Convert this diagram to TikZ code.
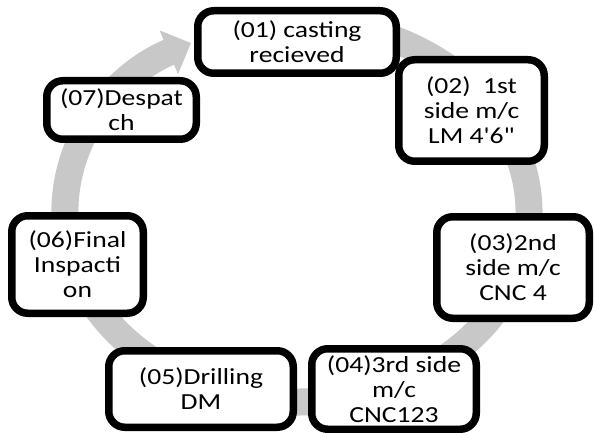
\documentclass[tikz,border=0pt]{standalone}
\usepackage{fontspec}
\newfontfamily\boxfont{Carlito}[FakeStretch=1.2]
\usetikzlibrary{arrows.meta}
\definecolor{ringgray}{RGB}{200,200,200}
\begin{document}
\begin{tikzpicture}[x=1pt,y=1pt,
  stepbox/.style={draw=black, line width=7.5pt, fill=white, rounded corners=16pt,
    align=center, inner sep=0pt, text=black,
    font=\boxfont\fontsize{23}{25}\selectfont},
  ring/.style={draw=ringgray, line width=27pt, -{Triangle[width=46pt,length=24pt]}}]
\clip (0,0) rectangle (595,432);
\fill[white] (0,0) rectangle (595,432);
% cycle ring
\draw[ring] ([shift={(297,220)}]100:232 and 190)
  arc[start angle=100, end angle=-242.8, x radius=232, y radius=190];
% steps
\node[stepbox, minimum width=198.5pt, minimum height=62.5pt] (s1) at (297,390) {(01) casting\\recieved};
\node[stepbox, minimum width=145.5pt, minimum height=101.5pt] (s2) at (471.5,321.5) {(02)\ \ 1st\\side m/c\\LM 4'6"};
\node[stepbox, minimum width=152.5pt, minimum height=101.5pt] (s3) at (513,164.5) {(03)2nd\\side m/c\\CNC 4};
\node[stepbox, minimum width=164.5pt, minimum height=80.5pt] (s4) at (394,43) {(04)3rd side\\m/c\\CNC123};
\node[stepbox, minimum width=184.5pt, minimum height=76.5pt] (s5) at (201,43) {(05)Drilling\\DM};
\node[stepbox, minimum width=131.5pt, minimum height=97.5pt] (s6) at (77.5,167.5) {(06)Final\\Inspacti\\on};
\node[stepbox, minimum width=149.5pt, minimum height=58.5pt] (s7) at (121.5,322) {(07)Despat\\ch};
\end{tikzpicture}
\end{document}
